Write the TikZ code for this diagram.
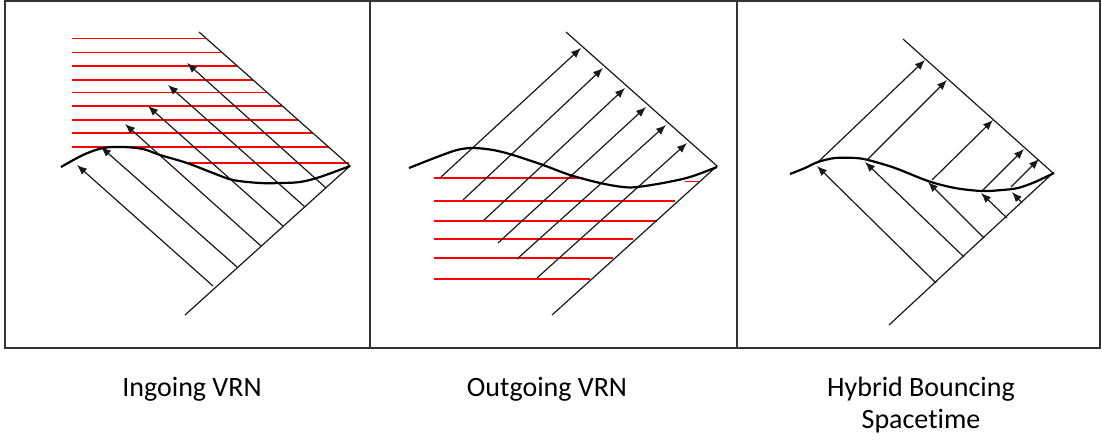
\documentclass[tikz,border=0pt]{standalone}
\usepackage{fontspec}
\setmainfont{Carlito}[Ligatures=NoCommon]
\usetikzlibrary{arrows.meta}
\begin{document}
\begin{tikzpicture}[x=1pt,y=-1pt,
  frame/.style={draw=black!80,line width=1.4pt},
  edge/.style={draw=black!90,line width=1.2pt},
  ray/.style={draw=black!90,line width=1.2pt,-{Latex[length=10pt,width=8pt]}},
  hline/.style={draw=red,line width=1.3pt},
  shell/.style={draw=black,line width=2.2pt,smooth,tension=0.55},
  caption/.style={font=\fontsize{28}{32}\selectfont,align=center,inner sep=0pt}]
\useasboundingbox (0,0) rectangle (1102,440);
\fill[white] (0,0) rectangle (1102,440);

% three panels
\draw[frame] (5,1) rectangle (1100,348);
\draw[frame] (370,1) -- (370,348);
\draw[frame] (737,1) -- (737,348);

% ---------- ingoing ----------
\coordinate (a1) at (350,166);
\coordinate (t1) at (199,32);
\coordinate (b1) at (185,315);
\foreach \y in {38.7,52.7,66,80,92.7,106,120,133,147}
  \draw[hline] (72,\y) -- ({199+(\y-32)/134*151},\y);
\draw[hline] (187,163) -- (349,163);
\draw[edge] (t1) -- (a1) -- (b1);
\foreach \sx/\sy/\ex/\ey in {213/286/77/165, 237/267/101/147, 261/246/125/124,
                            283/226/148/106, 305/207/168/85, 326/188/187/63}
  \draw[ray] (\sx,\sy) -- (\ex,\ey);
\draw[shell] plot coordinates {(61,167) (83,155) (103,148) (123,147) (143,149)
  (160,155) (187,163) (213,173) (233,180) (260,183) (280,183) (300,182)
  (320,177) (350,166)};

% ---------- outgoing ----------
\coordinate (a2) at (717,166);
\coordinate (t2) at (566,32);
\coordinate (b2) at (552,315);
\draw[hline] (434,178) -- (583,178);
\draw[hline] (685,181.5) -- (700,181.5);
\draw[hline] (434,201) -- (675,201);
\draw[hline] (434,221) -- (657,221);
\draw[hline] (434,239) -- (633,239);
\draw[hline] (434,258) -- (613,258);
\draw[hline] (434,279) -- (590,279);
\draw[edge] (t2) -- (a2) -- (b2);
\foreach \sx/\sy/\ex/\ey in {441/177/581/48, 463/200/603/68, 483/221/625/88,
                            498/243/646/107, 517/259/666/125, 537/278/687/143}
  \draw[ray] (\sx,\sy) -- (\ex,\ey);
\draw[shell] plot coordinates {(409,168) (437,157) (457,150) (473,148) (493,150)
  (513,155) (543,165) (570,175) (600,183) (623,187) (637,187) (663,183)
  (690,177) (717,167)};

% ---------- hybrid ----------
\coordinate (a3) at (1053,173);
\coordinate (t3) at (903,39);
\coordinate (b3) at (889,325);
\draw[edge] (t3) -- (a3) -- (b3);
\foreach \sx/\sy/\ex/\ey in {936/283/817/166, 964/257/865/162, 984/238/928/182,
                            1007/218/981/193, 1022/203/1012/192}
  \draw[ray] (\sx,\sy) -- (\ex,\ey);
\foreach \sx/\sy/\ex/\ey in {818/162/925/60, 867/160/947/80, 932/180/993/120,
                            982/191/1024/149, 1011/187/1039/159}
  \draw[ray] (\sx,\sy) -- (\ex,\ey);
\draw[shell] plot coordinates {(790,174) (805,168) (818,162) (835,158) (855,158)
  (868,160) (895,168) (928,181) (955,188) (982,191) (1002,190) (1018,188)
  (1035,182) (1054,173)};

% captions
\node[caption] (c1) at (192,389) {Ingoing VRN};
\node[caption] (c2) at (547,389) {Outgoing VRN};
\node[caption] (c3) at (921,405) {Hybrid Bouncing\\Spacetime};
\end{tikzpicture}
\end{document}
